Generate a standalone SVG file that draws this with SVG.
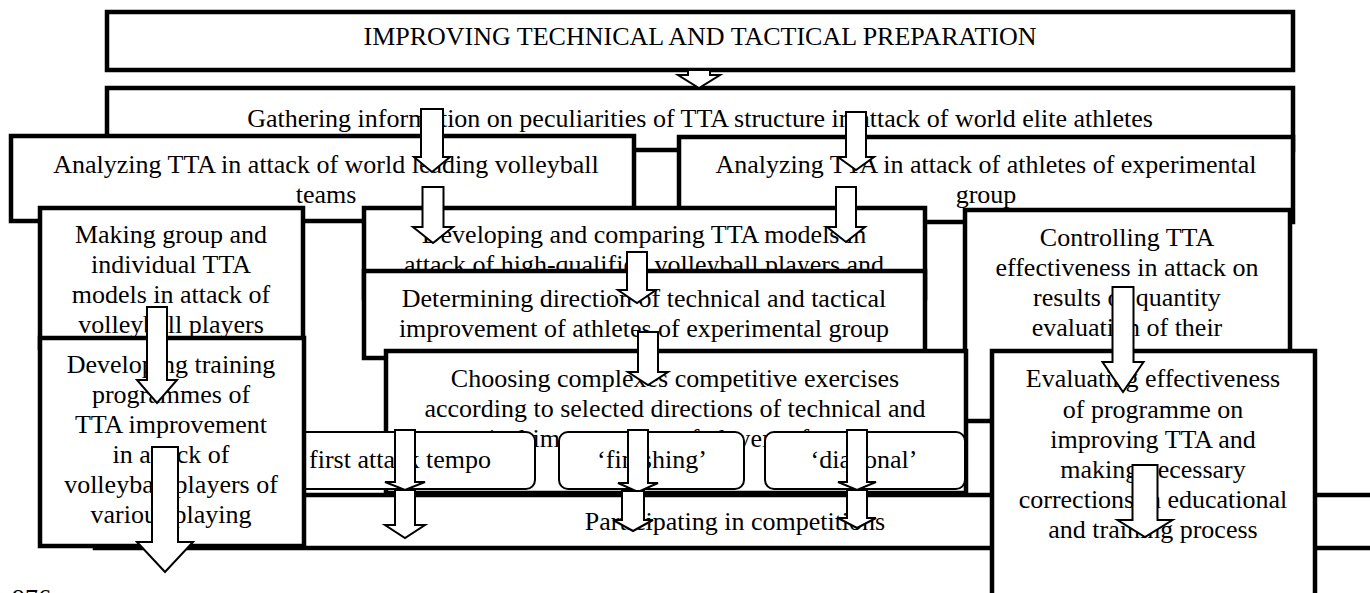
<svg xmlns="http://www.w3.org/2000/svg" width="1370" height="593" viewBox="0 0 1370 593">
<style>
.box{fill:#fff;stroke:#000;stroke-width:4.5}
.pill{fill:#fff;stroke:#000;stroke-width:2}
.arr{fill:#fff;stroke:#000;stroke-width:2;stroke-linejoin:miter}
text{font-family:"Liberation Serif","Times New Roman",serif;font-size:26px;fill:#000;text-anchor:middle}
.st{text-anchor:start}
</style>
<rect width="1370" height="593" fill="#fff"/>

<g id="n-title"><rect class="box" x="107" y="12" width="1186" height="58"/><text x="700" y="45">IMPROVING TECHNICAL AND TACTICAL PREPARATION</text></g>
<g id="n-gather"><rect class="box" x="107" y="88" width="1186" height="62"/><text x="700" y="127">Gathering information on peculiarities of TTA structure in attack of world elite athletes</text></g>
<g id="n-analyze-world"><rect class="box" x="11" y="136" width="623" height="85"/><text x="326" y="173">Analyzing TTA in attack of world leading volleyball</text><text x="326" y="203">teams</text></g>
<g id="n-analyze-exp"><rect class="box" x="679" y="137" width="614" height="85"/><text x="986" y="173">Analyzing TTA in attack of athletes of experimental</text><text x="986" y="203">group</text></g>
<g id="n-models"><rect class="box" x="40" y="208" width="263" height="140"/><text x="171" y="243">Making group and</text><text x="171" y="273">individual TTA</text><text x="171" y="303">models in attack of</text><text x="171" y="333">volleyball players</text></g>
<g id="n-develop-compare"><rect class="box" x="364" y="208" width="561" height="90"/><text x="644" y="243">Developing and comparing TTA models in</text><text x="644" y="273">attack of high-qualified volleyball players and</text></g>
<g id="n-control"><rect class="box" x="965" y="210" width="325" height="211"/><text x="1127" y="246">Controlling TTA</text><text x="1127" y="276">effectiveness in attack on</text><text x="1127" y="306">results of quantity</text><text x="1127" y="336">evaluation of their</text></g>
<g id="n-determine"><rect class="box" x="364" y="271" width="561" height="87"/><text x="644" y="307">Determining direction of technical and tactical</text><text x="644" y="337">improvement of athletes of experimental group</text></g>
<g id="n-choose"><rect class="box" x="386" y="351" width="580" height="142"/><text x="675" y="387">Choosing complexes competitive exercises</text><text x="675" y="417">according to selected directions of technical and</text><text class="st" x="451" y="447">tactical improvement of players of</text></g>
<g id="n-first-tempo"><rect class="pill" x="270" y="432" width="265" height="57" rx="9"/><text x="400" y="468">first attack tempo</text></g>
<g id="n-finishing"><rect class="pill" x="559" y="432" width="185" height="57" rx="9"/><text x="652" y="468">‘finishing’</text></g>
<g id="n-diagonal"><rect class="pill" x="765" y="432" width="200" height="57" rx="9"/><text x="864" y="468">‘diagonal’</text></g>
<g id="n-compete"><rect class="box" x="95" y="495" width="1285" height="53"/><text x="735" y="530">Participating in competitions</text></g>
<g id="n-programmes"><rect class="box" x="40" y="338" width="264" height="208"/><text x="171" y="373">Developing training</text><text x="171" y="403">programmes of</text><text x="171" y="433">TTA improvement</text><text x="171" y="463">in attack of</text><text x="171" y="493">volleyball players of</text><text x="171" y="523">various playing</text></g>
<g id="n-evaluate"><rect class="box" x="992" y="351" width="323" height="260"/><text x="1153" y="387">Evaluating effectiveness</text><text x="1153" y="418">of programme on</text><text x="1153" y="448">improving TTA and</text><text x="1153" y="478">making necessary</text><text x="1153" y="508">corrections in educational</text><text x="1153" y="538">and training process</text></g>

<g id="connectors">
<path class="arr" d="M688,70 H710 V75 H720 L699,88 L678,75 H688 Z"/>
<path class="arr" d="M421,109 H443 V157 H450 L432,172 L414,157 H421 Z"/>
<path class="arr" d="M846,112 H866 V157 H874 L856,170 L838,157 H846 Z"/>
<path class="arr" d="M422.5,187 H443.5 V227 H453 L433,243 L413,227 H422.5 Z"/>
<path class="arr" d="M836,187 H856 V227 H865 L846,242 L827,227 H836 Z"/>
<path class="arr" d="M627,252 H647 V290 H656 L637,303 L618,290 H627 Z"/>
<path class="arr" d="M638,332 H658 V372 H668 L648,385 L628,372 H638 Z"/>
<path class="arr" d="M147,307 H167 V380 H177 L157,403 L137,380 H147 Z"/>
<path class="arr" d="M152,447 H178 V542 H193 L165,572 L137,542 H152 Z"/>
<path class="arr" d="M1112.5,287 H1133.5 V362 H1143.5 L1123,392 L1102.5,362 H1112.5 Z"/>
<path class="arr" d="M1132.5,465 H1157.5 V520 H1172.5 L1145,537 L1117.5,520 H1132.5 Z"/>
<path class="arr" d="M395,430 H415 V482 H425 L405,490 L385,482 H395 Z"/>
<path class="arr" d="M395,490 H415 V525 H425 L405,538 L385,525 H395 Z"/>
<path class="arr" d="M628,430 H648 V483 H658 L638,492 L618,483 H628 Z"/>
<path class="arr" d="M622,491 H644 V520 H653 L633,531 L613,520 H622 Z"/>
<path class="arr" d="M847,430 H867 V482 H876 L857,490 L838,482 H847 Z"/>
<path class="arr" d="M847,490 H867 V518 H876 L857,528 L838,518 H847 Z"/>
</g>

<text class="st" x="12" y="607">976</text>
</svg>
